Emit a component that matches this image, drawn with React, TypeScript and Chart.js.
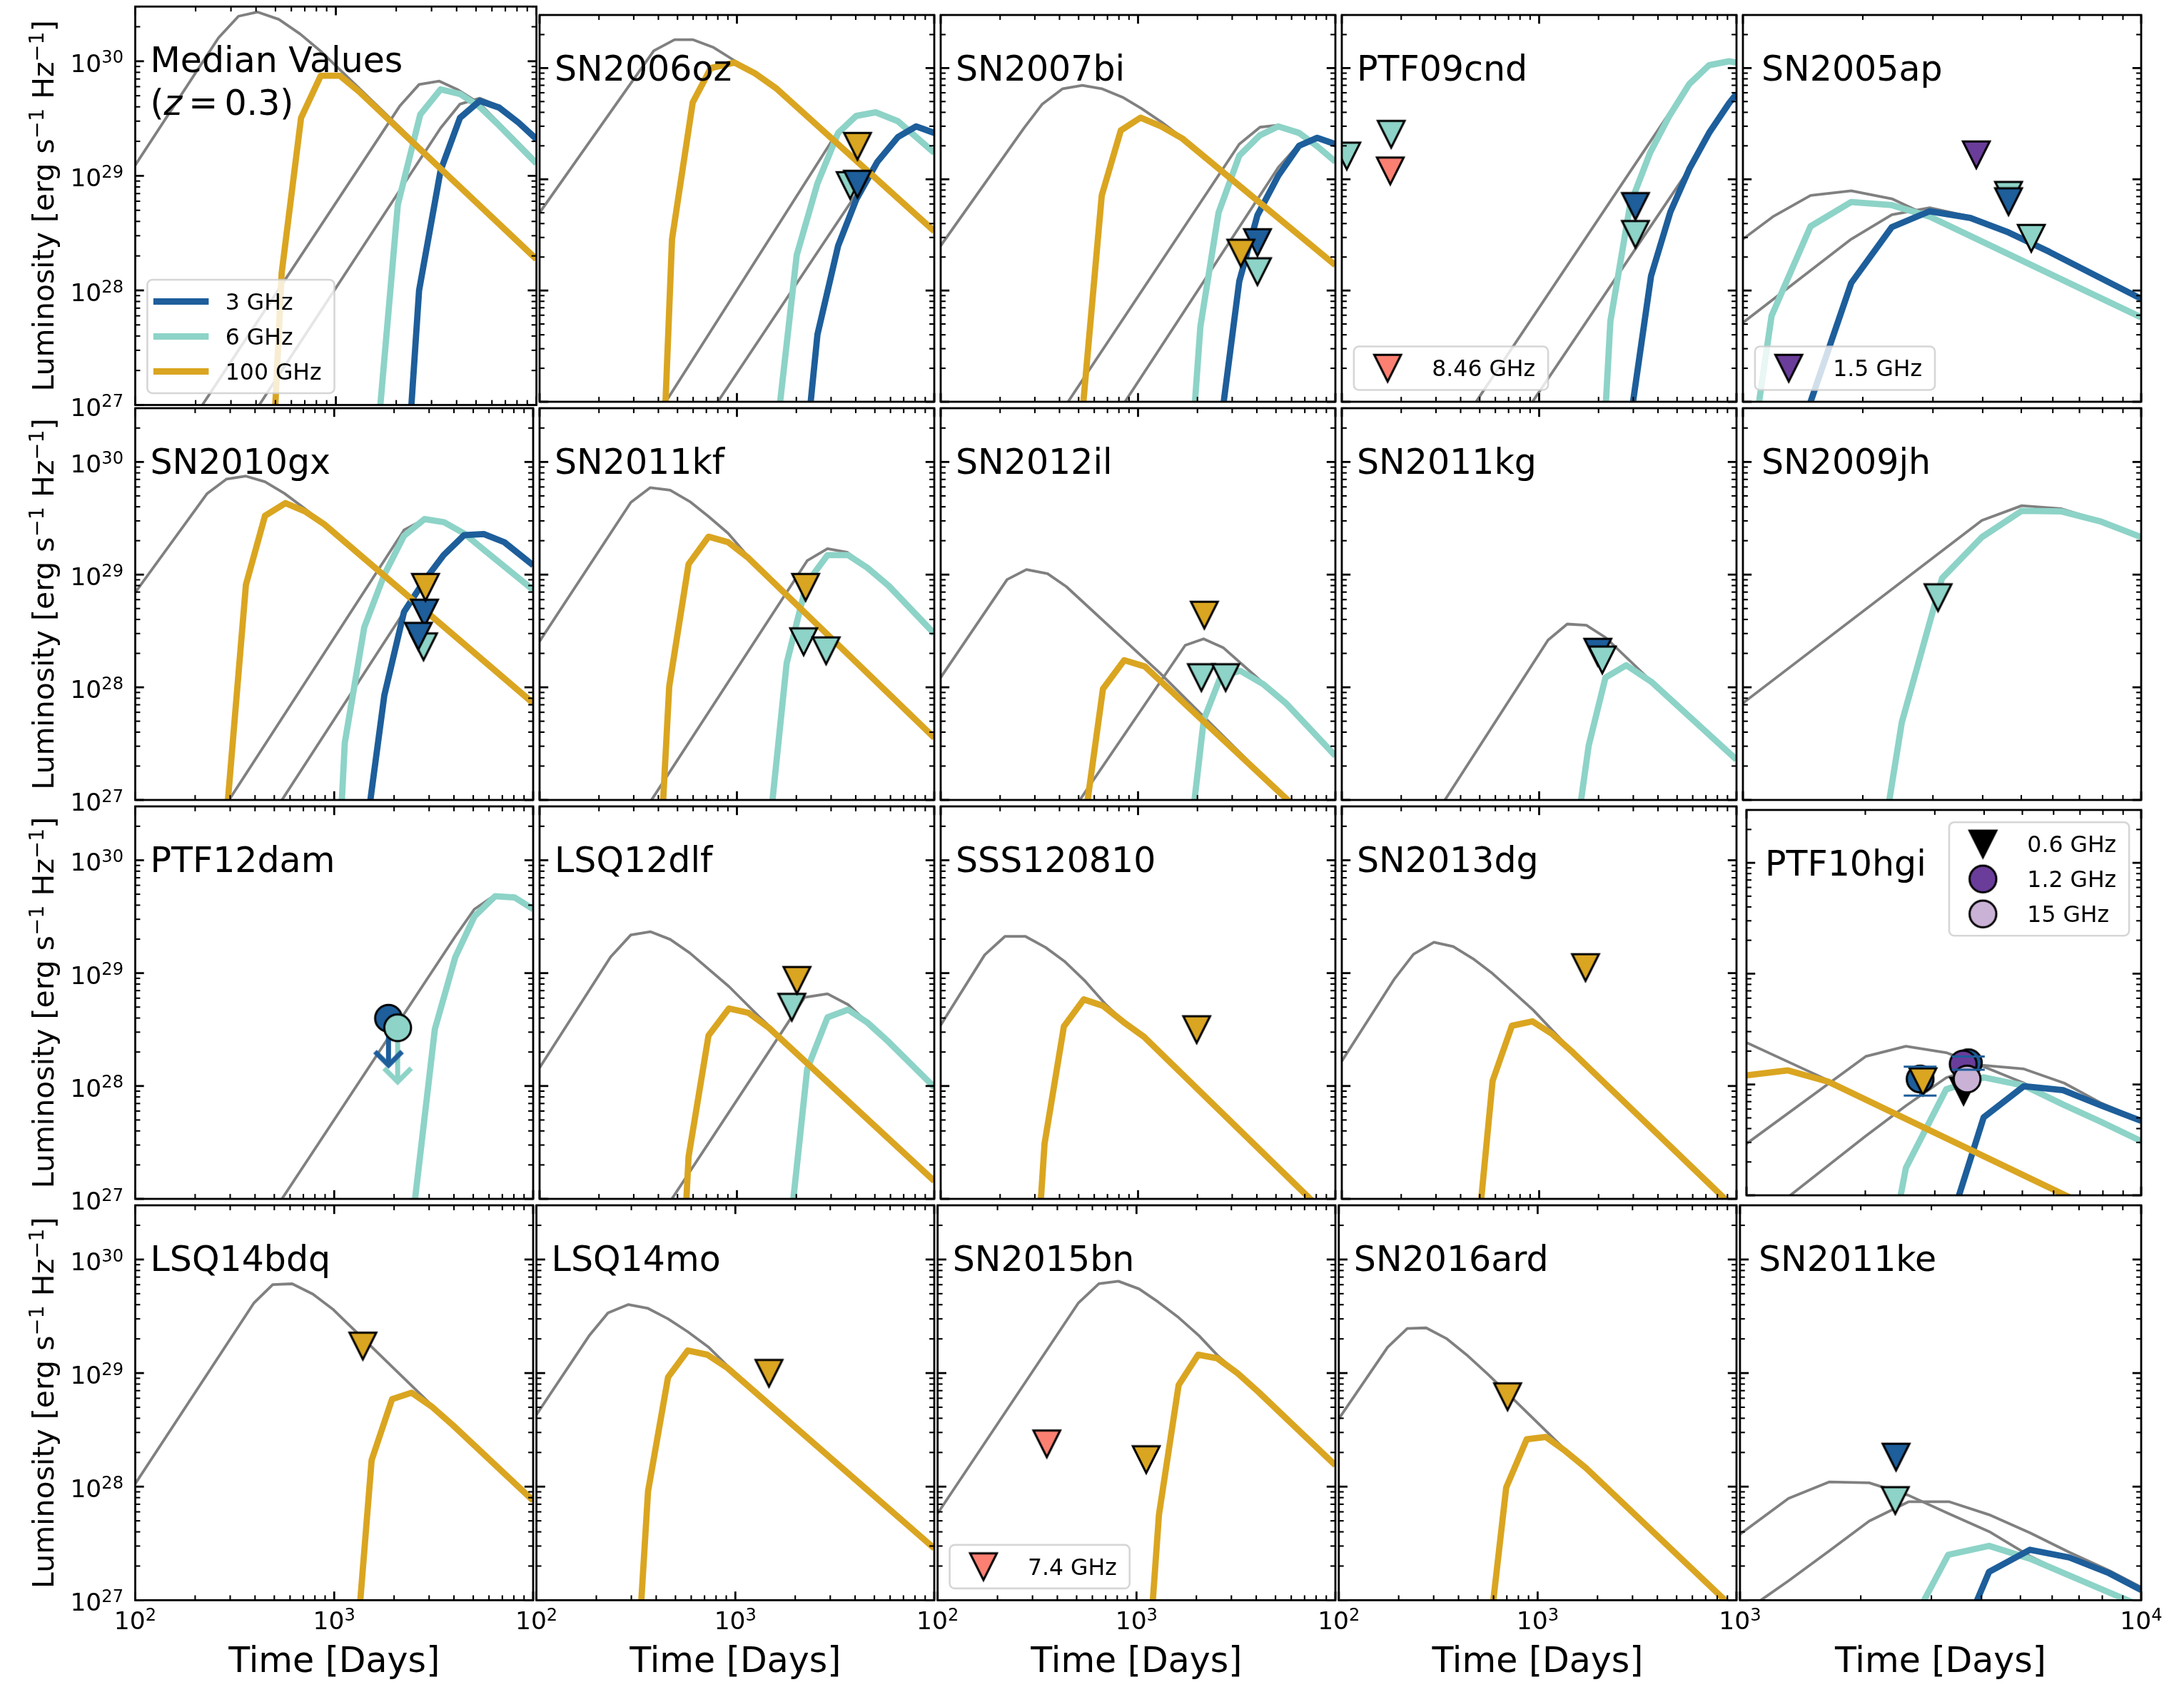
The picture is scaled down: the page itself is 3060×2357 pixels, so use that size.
import React, { useEffect, useRef } from 'react';
import { Chart, registerables } from 'chart.js';

Chart.register(...registerables);

type Pt = [number, number]; // [time in days, luminosity in erg s^-1 Hz^-1]

// ---------------------------------------------------------------------------
// Axis tick labels
// ---------------------------------------------------------------------------
const lumTickLabels = [1e27, 1e28, 1e29, 1e30];
const timeTickLabelsEarly = [1e2, 1e3];
const timeTickLabelsLate = [1e3, 1e4];

// ---------------------------------------------------------------------------
// Median values (z = 0.3)
// ---------------------------------------------------------------------------
const medianGray100: Pt[] = [[100, 1.24e29], [260, 1.6e30], [327, 2.47e30], [406, 2.69e30], [520, 2.32e30], [664, 1.73e30], [847, 1.21e30], [10000, 1.87e28]];
const medianGray6: Pt[] = [[150, 3.8e26], [216, 1e27], [2080, 4.05e29], [2600, 6.27e29], [3281, 6.7e29], [4074, 5.62e29], [5212, 4.28e29], [10000, 1.35e29]];
const medianGray3: Pt[] = [[300, 4.3e26], [415, 1e27], [3327, 2.61e29], [4159, 4.23e29], [5212, 4.76e29], [6516, 4.05e29], [10000, 2.21e29]];
const medianGold: Pt[] = [[429, 4e24], [537, 1.42e28], [671, 3.21e29], [841, 7.48e29], [1047, 7.48e29], [1300, 5.47e29], [10000, 1.87e28]];
const medianTeal: Pt[] = [[1629, 6.3e26], [2037, 5.6e28], [2636, 3.43e29], [3327, 5.68e29], [4159, 5.18e29], [5212, 4.0e29], [6516, 2.75e29], [10000, 1.28e29]];
const medianBlue: Pt[] = [[2123, 5e25], [2600, 1.0e28], [3327, 1.11e29], [4159, 3.21e29], [5212, 4.51e29], [6516, 3.94e29], [8147, 2.91e29], [10000, 2.09e29]];

// SN2006oz
const sn2006ozGray100: Pt[] = [[100, 5.0e28], [379, 1.43e30], [483, 1.8e30], [597, 1.8e30], [762, 1.53e30], [970, 1.17e30], [1236, 8.81e29], [1574, 6.55e29], [10000, 3.42e28]];
const sn2006ozGray6: Pt[] = [[300, 3.5e26], [436, 1e27], [3258, 2.72e29], [4027, 3.58e29], [5047, 4.0e29], [6546, 3.33e29], [10000, 1.73e29]];
const sn2006ozGray3: Pt[] = [[600, 4.5e26], [800, 1e27], [4027, 7.38e28], [5140, 1.39e29], [6546, 2.4e29], [8091, 2.99e29], [10000, 2.61e29]];
const sn2006ozGold: Pt[] = [[372, 1e24], [469, 2.9e28], [597, 4.9e29], [738, 1.0e30], [970, 1.12e30], [1236, 8.95e29], [1574, 6.62e29], [10000, 3.42e28]];
const sn2006ozTeal: Pt[] = [[1596, 5.6e26], [2009, 2.08e28], [2559, 9.19e28], [3258, 2.61e29], [4027, 3.72e29], [5047, 4.0e29], [6546, 3.33e29], [10000, 1.73e29]];
const sn2006ozBlue: Pt[] = [[2032, 6.9e25], [2559, 4.02e27], [3258, 2.53e28], [4027, 6.61e28], [5140, 1.43e29], [6546, 2.4e29], [8091, 2.99e29], [10000, 2.61e29]];
const sn2006ozLim6: Pt[] = [[3750, 8.79e28]];
const sn2006ozLim3: Pt[] = [[4083, 9.04e28]];
const sn2006ozLim100: Pt[] = [[4083, 1.98e29]];

// SN2007bi
const sn2007biGray100: Pt[] = [[100, 2.53e28], [264, 2.88e29], [326, 4.71e29], [415, 6.52e29], [522, 7.0e29], [655, 6.52e29], [834, 5.47e29], [1042, 4.32e29], [1312, 3.28e29], [1675, 2.36e29], [10000, 1.71e28]];
const sn2007biGray6: Pt[] = [[300, 3.4e26], [442, 1e27], [3258, 2.07e29], [4150, 2.94e29], [5140, 3.07e29], [6546, 2.61e29], [8091, 1.98e29], [10000, 1.44e29]];
const sn2007biGray3: Pt[] = [[650, 4.6e26], [859, 1e27], [5140, 1.28e29], [6546, 2.07e29], [8091, 2.36e29], [10000, 2.09e29]];
const sn2007biGold: Pt[] = [[520, 7.2e26], [655, 7.18e28], [818, 2.75e29], [1030, 3.58e29], [1312, 2.99e29], [1675, 2.33e29], [10000, 1.69e28]];
const sn2007biTeal: Pt[] = [[1644, 1.6e25], [2070, 4.74e27], [2559, 5.01e28], [3258, 1.63e29], [4150, 2.49e29], [5140, 2.99e29], [6546, 2.61e29], [8091, 1.98e29], [10000, 1.44e29]];
const sn2007biBlue: Pt[] = [[2588, 5.1e26], [3258, 1.21e28], [4027, 4.75e28], [5140, 1.08e29], [6546, 2.0e29], [8091, 2.36e29], [10000, 2.07e29]];
const sn2007biLim6: Pt[] = [[4027, 1.48e28]];
const sn2007biLim3: Pt[] = [[4027, 2.7e28]];
const sn2007biLim100: Pt[] = [[3319, 2.17e28]];

// PTF09cnd
const ptf09cndGray6: Pt[] = [[350, 4.4e26], [479, 1e27], [4571, 3.94e29], [5768, 7.19e29], [7261, 1.06e30], [9162, 1.15e30], [10000, 1.12e30]];
const ptf09cndGray3: Pt[] = [[650, 4e26], [925, 1e27], [5768, 1.24e29], [7261, 2.61e29], [9162, 4.82e29], [10000, 5.87e29]];
const ptf09cndTeal: Pt[] = [[1820, 3e24], [2296, 5.28e27], [2891, 5.92e28], [3648, 1.73e29], [4571, 3.72e29], [5768, 7.19e29], [7261, 1.06e30], [9162, 1.15e30], [10000, 1.12e30]];
const ptf09cndBlue: Pt[] = [[2931, 7.8e26], [3690, 1.35e28], [4624, 5.08e28], [5768, 1.24e29], [7261, 2.61e29], [9162, 4.82e29], [10000, 5.87e29]];
const ptf09cndLim6: Pt[] = [[106, 1.62e29], [178, 2.54e29], [3076, 3.2e28]];
const ptf09cndLim3: Pt[] = [[3076, 5.7e28]];
const ptf09cndLim846: Pt[] = [[176, 1.19e29]];

// SN2005ap
const sn2005apGray6: Pt[] = [[1000, 2.9e28], [1189, 4.61e28], [1479, 7.16e28], [1871, 7.87e28], [2366, 6.68e28], [2944, 4.62e28], [10000, 5.74e27]];
const sn2005apGray3: Pt[] = [[1000, 5.14e27], [1871, 2.9e28], [2366, 4.81e28], [2944, 5.55e28], [3724, 4.62e28], [4645, 3.42e28], [10000, 8.67e27]];
const sn2005apTeal: Pt[] = [[955, 3.2e25], [1180, 5.9e27], [1479, 3.78e28], [1871, 6.25e28], [2366, 5.86e28], [2944, 4.62e28], [10000, 5.74e27]];
const sn2005apBlue: Pt[] = [[1180, 1e25], [1479, 1e27], [1871, 1.17e28], [2366, 3.72e28], [2944, 5.16e28], [3724, 4.5e28], [4645, 3.33e28], [5875, 2.23e28], [10000, 8.43e27]];
const sn2005apLim15: Pt[] = [[3855, 1.66e29]];
const sn2005apLim6: Pt[] = [[4645, 7.18e28], [5297, 2.95e28]];
const sn2005apLim3: Pt[] = [[4645, 6.3e28]];

// SN2010gx
const sn2010gxGray100: Pt[] = [[100, 6.95e28], [229, 5.21e29], [287, 7.03e29], [360, 7.48e29], [449, 6.67e29], [562, 5.26e29], [714, 3.84e29], [891, 2.8e29], [10000, 7.23e27]];
const sn2010gxGray6: Pt[] = [[200, 3.5e26], [296, 1e27], [2244, 2.49e29], [2844, 3.11e29], [3565, 2.92e29], [4477, 2.33e29], [5649, 1.66e29], [10000, 7.31e28]];
const sn2010gxGray3: Pt[] = [[380, 3.7e26], [546, 1e27], [2831, 8.79e28], [3548, 1.49e29], [4498, 2.24e29], [5649, 2.29e29], [7161, 1.94e29], [10000, 1.21e29]];
const sn2010gxGold: Pt[] = [[286, 6.3e26], [360, 8.13e28], [449, 3.33e29], [569, 4.31e29], [714, 3.64e29], [891, 2.8e29], [10000, 7.23e27]];
const sn2010gxTeal: Pt[] = [[896, 1e24], [1130, 3.2e27], [1416, 3.41e28], [1786, 1.0e29], [2244, 2.21e29], [2844, 3.11e29], [3565, 2.92e29], [4477, 2.33e29], [5649, 1.66e29], [10000, 7.31e28]];
const sn2010gxBlue: Pt[] = [[1416, 3.9e26], [1786, 8.47e27], [2244, 4.68e28], [2831, 8.79e28], [3548, 1.49e29], [4498, 2.24e29], [5649, 2.29e29], [7161, 1.94e29], [10000, 1.21e29]];
const sn2010gxLim6: Pt[] = [[2812, 2.29e28]];
const sn2010gxLim3: Pt[] = [[2844, 4.56e28], [2649, 2.84e28]];
const sn2010gxLim100: Pt[] = [[2877, 7.71e28]];

// SN2011kf
const sn2011kfGray100: Pt[] = [[100, 2.56e28], [290, 4.38e29], [364, 5.92e29], [459, 5.61e29], [577, 4.45e29], [718, 3.28e29], [902, 2.33e29], [1130, 1.47e29], [10000, 3.59e27]];
const sn2011kfGray6: Pt[] = [[250, 3.5e26], [369, 1e27], [2270, 1.33e29], [2877, 1.7e29], [3614, 1.58e29], [4581, 1.17e29], [10000, 3.03e28]];
const sn2011kfGold: Pt[] = [[360, 5e24], [454, 1.02e28], [569, 1.24e29], [718, 2.17e29], [902, 1.94e29], [1130, 1.43e29], [10000, 3.56e27]];
const sn2011kfTeal: Pt[] = [[1426, 3.6e26], [1786, 1.63e28], [2254, 8.36e28], [2877, 1.49e29], [3656, 1.49e29], [4581, 1.15e29], [5888, 7.93e28], [10000, 2.99e28]];
const sn2011kfLim6: Pt[] = [[2178, 2.54e28], [2831, 2.11e28]];
const sn2011kfLim100: Pt[] = [[2228, 7.71e28]];

// SN2012il
const sn2012ilGray100: Pt[] = [[100, 1.22e28], [217, 9.04e28], [272, 1.11e29], [348, 1.02e29], [433, 7.83e28], [1291, 1.34e28], [5715, 1e27], [10000, 4.1e26]];
const sn2012ilGray6: Pt[] = [[400, 5.4e26], [507, 1e27], [1734, 2.36e28], [2148, 2.69e28], [2710, 2.24e28], [3926, 1.26e28], [5610, 7.23e27], [10000, 2.46e27]];
const sn2012ilGold: Pt[] = [[526, 5e26], [664, 9.66e27], [851, 1.74e28], [1084, 1.53e28], [5728, 1e27], [10000, 4.1e26]];
const sn2012ilTeal: Pt[] = [[1706, 1.5e26], [2153, 5.14e27], [2630, 1.26e28], [3296, 1.4e28], [4295, 1.07e28], [5610, 7.23e27], [10000, 2.46e27]];
const sn2012ilLim6: Pt[] = [[2094, 1.22e28], [2780, 1.22e28]];
const sn2012ilLim100: Pt[] = [[2168, 4.37e28]];

// SN2011kg
const sn2011kgGray6: Pt[] = [[250, 4.6e26], [333, 1e27], [1109, 2.62e28], [1387, 3.64e28], [1734, 3.56e28], [2168, 2.77e28], [3698, 1.13e28], [10000, 2.28e27]];
const sn2011kgTeal: Pt[] = [[1416, 1.7e26], [1782, 3.03e27], [2168, 1.22e28], [2761, 1.57e28], [3698, 1.12e28], [10000, 2.28e27]];
const sn2011kgLim3: Pt[] = [[1982, 2.05e28]];
const sn2011kgLim6: Pt[] = [[2089, 1.75e28]];

// SN2009jh
const sn2009jhGray6: Pt[] = [[1000, 7.23e27], [3981, 3.03e29], [5012, 4.09e29], [6310, 3.84e29], [7943, 2.99e29], [10000, 2.17e29]];
const sn2009jhTeal: Pt[] = [[1995, 3.2e25], [2506, 4.88e27], [3162, 9.27e28], [3981, 2.15e29], [5012, 3.68e29], [6310, 3.64e29], [7943, 2.95e29], [10000, 2.15e29]];
const sn2009jhLim6: Pt[] = [[3090, 6.25e28]];

// PTF12dam
const ptf12damGray6: Pt[] = [[400, 4.4e26], [546, 1e27], [4064, 2.12e29], [5070, 3.69e29], [6442, 4.92e29], [8072, 4.8e29], [10000, 3.73e29]];
const ptf12damTeal: Pt[] = [[2014, 3e24], [2541, 9.5e26], [3206, 3.19e28], [4064, 1.39e29], [5070, 3.18e29], [6442, 4.8e29], [8072, 4.68e29], [10000, 3.69e29]];
const ptf12damDet3: Pt[] = [[1875, 3.98e28]];
const ptf12damArrow3: Pt[] = [[1875, 3.98e28], [1875, 1.53e28]];
const ptf12damDet6: Pt[] = [[2084, 3.28e28]];
const ptf12damArrow6: Pt[] = [[2084, 3.28e28], [2084, 1.09e28]];

// LSQ12dlf
const lsq12dlfGray100: Pt[] = [[100, 1.45e28], [229, 1.39e29], [290, 2.18e29], [364, 2.33e29], [459, 1.99e29], [577, 1.51e29], [912, 7.6e28], [1288, 4.16e28], [10000, 1.45e27]];
const lsq12dlfGray6: Pt[] = [[330, 4e26], [468, 1e27], [2203, 6.1e28], [2877, 6.56e28], [3656, 5.26e28], [4581, 3.68e28], [10000, 9.89e27]];
const lsq12dlfGold: Pt[] = [[452, 1e24], [569, 2.37e27], [718, 2.8e28], [912, 4.86e28], [1143, 4.45e28], [1452, 3.28e28], [10000, 1.44e27]];
const lsq12dlfTeal: Pt[] = [[1799, 3.1e26], [2270, 1.41e28], [2877, 4.05e28], [3656, 4.74e28], [4581, 3.65e28], [5888, 2.45e28], [10000, 9.77e27]];
const lsq12dlfLim6: Pt[] = [[1897, 4.99e28]];
const lsq12dlfLim100: Pt[] = [[2014, 8.63e28]];

// SSS120810
const sss120810Gray100: Pt[] = [[100, 3.46e28], [167, 1.45e29], [212, 2.12e29], [268, 2.12e29], [340, 1.69e29], [427, 1.26e29], [541, 8.45e28], [687, 5.27e28], [845, 3.74e28], [1072, 2.75e28], [10000, 6.1e26]];
const sss120810Gold: Pt[] = [[266, 6.3e24], [336, 3.08e27], [421, 3.37e28], [531, 5.85e28], [665, 5.13e28], [845, 3.68e28], [1072, 2.73e28], [7447, 1e27], [10000, 6.0e26]];
const sss120810Lim100: Pt[] = [[1982, 3.16e28]];

// SN2013dg
const sn2013dgGray100: Pt[] = [[100, 1.66e28], [185, 8.91e28], [231, 1.47e29], [293, 1.88e29], [367, 1.72e29], [463, 1.34e29], [581, 9.9e28], [736, 6.85e28], [935, 4.69e28], [1167, 3.11e28], [1479, 2.02e28], [10000, 8.1e26]];
const sn2013dgGold: Pt[] = [[460, 1.6e26], [581, 1.11e28], [728, 3.42e28], [925, 3.74e28], [1167, 2.88e28], [1479, 1.99e28], [8730, 1e27], [10000, 7.9e26]];
const sn2013dgLim100: Pt[] = [[1718, 1.12e29]];

// PTF10hgi
const ptf10hgiGray100: Pt[] = [[1000, 2.39e28], [1611, 1.09e28], [6427, 1.02e27], [10000, 4.8e26]];
const ptf10hgiGray6: Pt[] = [[1000, 2.92e27], [2004, 1.79e28], [2535, 2.21e28], [3206, 1.94e28], [3990, 1.45e28], [5047, 1.03e28], [6339, 6.59e27], [7943, 4.57e27], [10000, 3.08e27]];
const ptf10hgiGray3: Pt[] = [[1000, 5e26], [1291, 1e27], [2004, 3.42e27], [2535, 6.43e27], [3206, 1.15e28], [3990, 1.49e28], [5047, 1.38e28], [6383, 1.03e28], [7943, 6.76e27], [10000, 4.79e27]];
const ptf10hgiGold: Pt[] = [[1000, 1.21e28], [1274, 1.34e28], [1611, 1.06e28], [6427, 1e27], [10000, 4.7e26]];
const ptf10hgiTeal: Pt[] = [[2004, 2.2e25], [2535, 1.77e27], [3206, 9.04e27], [3990, 1.16e28], [5047, 9.77e27], [6339, 6.59e27], [7943, 4.57e27], [10000, 3.08e27]];
const ptf10hgiBlue: Pt[] = [[3206, 4.3e26], [3990, 5.06e27], [5047, 9.66e27], [6339, 8.89e27], [7943, 6.43e27], [10000, 4.69e27]];
const ptf10hgiDet3: Pt[] = [[2754, 1.12e28], [3648, 1.57e28]];
const ptf10hgiErr3a: Pt[] = [[2754, 1.45e28], [2754, 7.94e27]];
const ptf10hgiErr3b: Pt[] = [[3648, 1.79e28], [3648, 1.36e28]];
const ptf10hgiCaps3: Pt[] = [[2754, 1.45e28], [2754, 7.94e27], [3648, 1.79e28], [3648, 1.36e28]];
const ptf10hgiLim100: Pt[] = [[2799, 1.06e28]];
const ptf10hgiDet12: Pt[] = [[3540, 1.53e28]];
const ptf10hgiLim06: Pt[] = [[3548, 8.71e27]];
const ptf10hgiDet15: Pt[] = [[3622, 1.12e28]];

// LSQ14bdq
const lsq14bdqGray100: Pt[] = [[100, 1.06e28], [394, 4.12e29], [491, 6.01e29], [615, 6.11e29], [782, 4.95e29], [991, 3.61e29], [3112, 5.16e28], [3945, 3.52e28], [10000, 7.64e27]];
const lsq14bdqGold: Pt[] = [[1222, 1.1e26], [1542, 1.71e28], [1954, 5.89e28], [2449, 6.71e28], [3112, 5.02e28], [3945, 3.48e28], [10000, 7.55e27]];
const lsq14bdqLim100: Pt[] = [[1393, 1.73e29]];

// LSQ14mo
const lsq14moGray100: Pt[] = [[100, 4.3e28], [184, 2.13e29], [229, 3.39e29], [290, 4.01e29], [364, 3.71e29], [459, 3.0e29], [577, 2.31e29], [731, 1.7e29], [912, 1.16e29], [10000, 2.88e27]];
const lsq14moGold: Pt[] = [[289, 1.3e25], [364, 9.1e27], [459, 9.2e28], [577, 1.58e29], [723, 1.45e29], [912, 1.11e29], [10000, 2.86e27]];
const lsq14moLim100: Pt[] = [[1476, 9.95e28]];

// SN2015bn
const sn2015bnGray100: Pt[] = [[100, 5.81e27], [509, 4.12e29], [647, 6.11e29], [811, 6.44e29], [1030, 5.51e29], [1285, 4.23e29], [1629, 3.08e29], [2065, 2.13e29], [2547, 1.44e29], [3228, 1.0e29], [4102, 6.87e28], [10000, 1.55e28]];
const sn2015bnGold: Pt[] = [[1030, 2e25], [1297, 5.66e27], [1629, 7.85e28], [2042, 1.45e29], [2547, 1.35e29], [3228, 9.95e28], [4102, 6.82e28], [10000, 1.54e28]];
const sn2015bnLim74: Pt[] = [[354, 2.38e28]];
const sn2015bnLim100: Pt[] = [[1119, 1.73e28]];

// SN2016ard
const sn2016ardGray100: Pt[] = [[100, 3.96e28], [176, 1.69e29], [221, 2.47e29], [275, 2.5e29], [350, 2.0e29], [439, 1.45e29], [564, 9.7e28], [1377, 2.11e28], [1750, 1.48e28], [10000, 8.1e26]];
const sn2016ardGold: Pt[] = [[551, 2.8e26], [695, 9.84e27], [881, 2.61e28], [1099, 2.74e28], [1377, 2.06e28], [1750, 1.46e28], [8750, 1e27], [10000, 7.9e26]];
const sn2016ardLim100: Pt[] = [[706, 6.19e28]];

// SN2011ke
const sn2011keGray6: Pt[] = [[1000, 3.81e27], [1321, 7.87e27], [1667, 1.1e28], [2099, 1.08e28], [2630, 8.39e27], [3304, 5.81e27], [4178, 4.02e27], [5284, 2.44e27], [6622, 1.66e27], [8318, 1.19e27], [10000, 9.1e26]];
const sn2011keGray3: Pt[] = [[1000, 7.4e26], [1127, 1e27], [1321, 1.48e27], [1667, 2.71e27], [2099, 4.97e27], [2630, 7.36e27], [3327, 7.36e27], [4178, 5.66e27], [5284, 3.92e27], [6622, 2.64e27], [8318, 1.83e27], [10000, 1.3e27]];
const sn2011keTeal: Pt[] = [[2630, 5.5e26], [3304, 2.51e27], [4178, 3.01e27], [5284, 2.32e27], [6622, 1.65e27], [8318, 1.17e27], [10000, 8.9e26]];
const sn2011keBlue: Pt[] = [[3304, 2.5e26], [4178, 1.78e27], [5284, 2.78e27], [6622, 2.38e27], [8318, 1.73e27], [10000, 1.23e27]];
const sn2011keLim6: Pt[] = [[2438, 7.55e27]];
const sn2011keLim3: Pt[] = [[2449, 1.82e28]];

// ---------------------------------------------------------------------------
// Styling
// ---------------------------------------------------------------------------
const FONT = '"DejaVu Sans", "Liberation Sans", sans-serif';
const GRAY = '#808080';
const C3 = '#1d5e9b';
const C6 = '#8dd3c7';
const C100 = '#daa520';
const CSALMON = '#fb8072';
const CPURPLE = '#6a3d9a';
const CLILAC = '#cab2d6';
const CBLACK = '#000000';

const PAGE_W = 3060;
const PAGE_H = 2357;
const GRID = { left: 189.5, top: 9.2, w: 562.1, h: 558.3 };
const Y_MIN = 1e27;
const Y_MAX = 3e30;
const X_MAX = 1e4;

type Kind = 'gray' | 'f3' | 'f6' | 'f100';
type MarkStyle = 'tri' | 'circ' | 'chev';
interface Curve { kind: Kind; pts: Pt[] }
interface Marks { style: MarkStyle; color: string; pts: Pt[] }
interface Seg { color: string; width: number; pts: Pt[] }
interface LegendItem { handle: 'line' | 'tri' | 'circ'; color: string; label: string }
interface LegendSpec { loc: 'll' | 'ur'; items: LegendItem[] }
interface PanelDef {
  title: string;
  subtitle?: boolean;
  xMin: number;
  curves: Curve[];
  segs?: Seg[];
  marks: Marks[];
  caps?: Pt[];
  legend?: LegendSpec;
}

const gray = (pts: Pt[]): Curve => ({ kind: 'gray', pts });
const ghz3 = (pts: Pt[]): Curve => ({ kind: 'f3', pts });
const ghz6 = (pts: Pt[]): Curve => ({ kind: 'f6', pts });
const ghz100 = (pts: Pt[]): Curve => ({ kind: 'f100', pts });
const tri = (color: string, pts: Pt[]): Marks => ({ style: 'tri', color, pts });
const circ = (color: string, pts: Pt[]): Marks => ({ style: 'circ', color, pts });
const chev = (color: string, pts: Pt[]): Marks => ({ style: 'chev', color, pts });

const PANELS: PanelDef[] = [
  // row 1
  {
    title: 'Median Values', subtitle: true, xMin: 100,
    curves: [gray(medianGray100), gray(medianGray6), gray(medianGray3), ghz6(medianTeal), ghz3(medianBlue), ghz100(medianGold)],
    marks: [],
    legend: { loc: 'll', items: [
      { handle: 'line', color: C3, label: '3 GHz' },
      { handle: 'line', color: C6, label: '6 GHz' },
      { handle: 'line', color: C100, label: '100 GHz' },
    ] },
  },
  {
    title: 'SN2006oz', xMin: 100,
    curves: [gray(sn2006ozGray100), gray(sn2006ozGray6), gray(sn2006ozGray3), ghz6(sn2006ozTeal), ghz3(sn2006ozBlue), ghz100(sn2006ozGold)],
    marks: [tri(C6, sn2006ozLim6), tri(C3, sn2006ozLim3), tri(C100, sn2006ozLim100)],
  },
  {
    title: 'SN2007bi', xMin: 100,
    curves: [gray(sn2007biGray100), gray(sn2007biGray6), gray(sn2007biGray3), ghz6(sn2007biTeal), ghz3(sn2007biBlue), ghz100(sn2007biGold)],
    marks: [tri(C3, sn2007biLim3), tri(C6, sn2007biLim6), tri(C100, sn2007biLim100)],
  },
  {
    title: 'PTF09cnd', xMin: 100,
    curves: [gray(ptf09cndGray6), gray(ptf09cndGray3), ghz6(ptf09cndTeal), ghz3(ptf09cndBlue)],
    marks: [tri(C6, ptf09cndLim6), tri(C3, ptf09cndLim3), tri(CSALMON, ptf09cndLim846)],
    legend: { loc: 'll', items: [{ handle: 'tri', color: CSALMON, label: '8.46 GHz' }] },
  },
  {
    title: 'SN2005ap', xMin: 1000,
    curves: [gray(sn2005apGray6), gray(sn2005apGray3), ghz6(sn2005apTeal), ghz3(sn2005apBlue)],
    marks: [tri(CPURPLE, sn2005apLim15), tri(C6, sn2005apLim6), tri(C3, sn2005apLim3)],
    legend: { loc: 'll', items: [{ handle: 'tri', color: CPURPLE, label: '1.5 GHz' }] },
  },
  // row 2
  {
    title: 'SN2010gx', xMin: 100,
    curves: [gray(sn2010gxGray100), gray(sn2010gxGray6), gray(sn2010gxGray3), ghz6(sn2010gxTeal), ghz3(sn2010gxBlue), ghz100(sn2010gxGold)],
    marks: [tri(C6, sn2010gxLim6), tri(C3, sn2010gxLim3), tri(C100, sn2010gxLim100)],
  },
  {
    title: 'SN2011kf', xMin: 100,
    curves: [gray(sn2011kfGray100), gray(sn2011kfGray6), ghz6(sn2011kfTeal), ghz100(sn2011kfGold)],
    marks: [tri(C6, sn2011kfLim6), tri(C100, sn2011kfLim100)],
  },
  {
    title: 'SN2012il', xMin: 100,
    curves: [gray(sn2012ilGray100), gray(sn2012ilGray6), ghz6(sn2012ilTeal), ghz100(sn2012ilGold)],
    marks: [tri(C6, sn2012ilLim6), tri(C100, sn2012ilLim100)],
  },
  {
    title: 'SN2011kg', xMin: 100,
    curves: [gray(sn2011kgGray6), ghz6(sn2011kgTeal)],
    marks: [tri(C3, sn2011kgLim3), tri(C6, sn2011kgLim6)],
  },
  {
    title: 'SN2009jh', xMin: 1000,
    curves: [gray(sn2009jhGray6), ghz6(sn2009jhTeal)],
    marks: [tri(C6, sn2009jhLim6)],
  },
  // row 3
  {
    title: 'PTF12dam', xMin: 100,
    curves: [gray(ptf12damGray6), ghz6(ptf12damTeal)],
    segs: [{ color: C3, width: 7, pts: ptf12damArrow3 }, { color: C6, width: 7, pts: ptf12damArrow6 }],
    marks: [chev(C3, [ptf12damArrow3[1]]), chev(C6, [ptf12damArrow6[1]]), circ(C3, ptf12damDet3), circ(C6, ptf12damDet6)],
  },
  {
    title: 'LSQ12dlf', xMin: 100,
    curves: [gray(lsq12dlfGray100), gray(lsq12dlfGray6), ghz6(lsq12dlfTeal), ghz100(lsq12dlfGold)],
    marks: [tri(C6, lsq12dlfLim6), tri(C100, lsq12dlfLim100)],
  },
  {
    title: 'SSS120810', xMin: 100,
    curves: [gray(sss120810Gray100), ghz100(sss120810Gold)],
    marks: [tri(C100, sss120810Lim100)],
  },
  {
    title: 'SN2013dg', xMin: 100,
    curves: [gray(sn2013dgGray100), ghz100(sn2013dgGold)],
    marks: [tri(C100, sn2013dgLim100)],
  },
  {
    title: 'PTF10hgi', xMin: 1000,
    curves: [gray(ptf10hgiGray100), gray(ptf10hgiGray6), gray(ptf10hgiGray3), ghz6(ptf10hgiTeal), ghz3(ptf10hgiBlue), ghz100(ptf10hgiGold)],
    segs: [{ color: C3, width: 3, pts: ptf10hgiErr3a }, { color: C3, width: 3, pts: ptf10hgiErr3b }],
    marks: [circ(C3, ptf10hgiDet3), tri(C100, ptf10hgiLim100), circ(CPURPLE, ptf10hgiDet12), tri(CBLACK, ptf10hgiLim06), circ(CLILAC, ptf10hgiDet15)],
    caps: ptf10hgiCaps3,
    legend: { loc: 'ur', items: [
      { handle: 'tri', color: CBLACK, label: '0.6 GHz' },
      { handle: 'circ', color: CPURPLE, label: '1.2 GHz' },
      { handle: 'circ', color: CLILAC, label: '15 GHz' },
    ] },
  },
  // row 4
  {
    title: 'LSQ14bdq', xMin: 100,
    curves: [gray(lsq14bdqGray100), ghz100(lsq14bdqGold)],
    marks: [tri(C100, lsq14bdqLim100)],
  },
  {
    title: 'LSQ14mo', xMin: 100,
    curves: [gray(lsq14moGray100), ghz100(lsq14moGold)],
    marks: [tri(C100, lsq14moLim100)],
  },
  {
    title: 'SN2015bn', xMin: 100,
    curves: [gray(sn2015bnGray100), ghz100(sn2015bnGold)],
    marks: [tri(CSALMON, sn2015bnLim74), tri(C100, sn2015bnLim100)],
    legend: { loc: 'll', items: [{ handle: 'tri', color: CSALMON, label: '7.4 GHz' }] },
  },
  {
    title: 'SN2016ard', xMin: 100,
    curves: [gray(sn2016ardGray100), ghz100(sn2016ardGold)],
    marks: [tri(C100, sn2016ardLim100)],
  },
  {
    title: 'SN2011ke', xMin: 1000,
    curves: [gray(sn2011keGray6), gray(sn2011keGray3), ghz6(sn2011keTeal), ghz3(sn2011keBlue)],
    marks: [tri(C6, sn2011keLim6), tri(C3, sn2011keLim3)],
  },
];

// ---------------------------------------------------------------------------
// Marker sprites (triangle_down / circle / caret)
// ---------------------------------------------------------------------------
const markerCache = new Map<string, HTMLCanvasElement>();
function markerImage(style: MarkStyle, color: string): HTMLCanvasElement {
  const key = style + color;
  const hit = markerCache.get(key);
  if (hit) return hit;
  const c = document.createElement('canvas');
  c.width = 60;
  c.height = 60;
  const g = c.getContext('2d') as CanvasRenderingContext2D;
  const m = 30;
  const s = 37.5 / 2;
  g.lineWidth = 3;
  g.strokeStyle = '#000';
  g.fillStyle = color;
  g.lineJoin = 'miter';
  if (style === 'tri') {
    g.beginPath();
    g.moveTo(m - s, m - s);
    g.lineTo(m + s, m - s);
    g.lineTo(m, m + s);
    g.closePath();
    g.fill();
    g.stroke();
  } else if (style === 'circ') {
    g.beginPath();
    g.arc(m, m, s, 0, Math.PI * 2);
    g.fill();
    g.stroke();
  } else {
    g.strokeStyle = color;
    g.lineWidth = 7;
    g.beginPath();
    g.moveTo(m - 19, m - 19);
    g.lineTo(m, m);
    g.lineTo(m + 19, m - 19);
    g.stroke();
  }
  markerCache.set(key, c);
  return c;
}

// ---------------------------------------------------------------------------
// Text helpers
// ---------------------------------------------------------------------------
interface Piece { t: string; sup?: boolean; it?: boolean; dx?: number }
function pieceFont(p: Piece, size: number) {
  const s = p.sup ? size * 0.7 : size;
  return `${p.it ? 'italic ' : ''}${s}px ${FONT}`;
}
function richWidth(ctx: CanvasRenderingContext2D, pieces: Piece[], size: number) {
  let w = 0;
  for (const p of pieces) {
    ctx.font = pieceFont(p, size);
    w += (p.dx || 0) + ctx.measureText(p.t).width;
  }
  return w;
}
function drawRich(ctx: CanvasRenderingContext2D, pieces: Piece[], x: number, y: number, size: number, raise: number) {
  let cx = x;
  ctx.textAlign = 'left';
  ctx.textBaseline = 'alphabetic';
  for (const p of pieces) {
    cx += p.dx || 0;
    ctx.font = pieceFont(p, size);
    ctx.fillText(p.t, cx, p.sup ? y - size * raise : y);
    cx += ctx.measureText(p.t).width;
  }
}
function drawPow(ctx: CanvasRenderingContext2D, value: number, x: number, baseline: number, size: number, align: 'center' | 'right') {
  const exp = String(Math.round(Math.log10(value)));
  const pieces: Piece[] = [{ t: '10' }, { t: exp, sup: true }];
  const w = richWidth(ctx, pieces, size);
  const x0 = align === 'center' ? x - w / 2 : x - w;
  drawRich(ctx, pieces, x0, baseline, size, 0.36);
}
function strokeLine(ctx: CanvasRenderingContext2D, x1: number, y1: number, x2: number, y2: number) {
  ctx.beginPath();
  ctx.moveTo(x1, y1);
  ctx.lineTo(x2, y2);
  ctx.stroke();
}
function roundRectPath(ctx: CanvasRenderingContext2D, x: number, y: number, w: number, h: number, r: number) {
  ctx.beginPath();
  ctx.moveTo(x + r, y);
  ctx.lineTo(x + w - r, y);
  ctx.arcTo(x + w, y, x + w, y + r, r);
  ctx.lineTo(x + w, y + h - r);
  ctx.arcTo(x + w, y + h, x + w - r, y + h, r);
  ctx.lineTo(x + r, y + h);
  ctx.arcTo(x, y + h, x, y + h - r, r);
  ctx.lineTo(x, y + r);
  ctx.arcTo(x, y, x + r, y, r);
  ctx.closePath();
}

function logTicks(min: number, max: number) {
  const out: { v: number; major: boolean }[] = [];
  const e0 = Math.floor(Math.log10(min));
  const e1 = Math.ceil(Math.log10(max));
  for (let e = e0; e <= e1; e++) {
    for (let k = 1; k <= 9; k++) {
      const v = k * Math.pow(10, e);
      if (v >= min * (1 - 1e-9) && v <= max * (1 + 1e-9)) out.push({ v, major: k === 1 });
    }
  }
  return out;
}

function drawLegend(ctx: CanvasRenderingContext2D, a: any, spec: LegendSpec) {
  const fs = 31.5;
  ctx.font = `${fs}px ${FONT}`;
  const tw = Math.max(...spec.items.map((it) => ctx.measureText(it.label).width));
  const w = 109.4 + tw + 18;
  const h = 61 + 49 * (spec.items.length - 1);
  const x0 = spec.loc === 'll' ? a.left + 16.9 : a.right - 16.9 - w;
  const y0 = spec.loc === 'll' ? a.bottom - 16.5 - h : a.top + 17.2;
  roundRectPath(ctx, x0, y0, w, h, 7);
  ctx.fillStyle = 'rgba(255,255,255,0.8)';
  ctx.fill();
  ctx.lineWidth = 2.6;
  ctx.strokeStyle = 'rgba(204,204,204,0.8)';
  ctx.stroke();
  spec.items.forEach((it, i) => {
    const cy = y0 + 30.5 + 49 * i;
    if (it.handle === 'line') {
      ctx.strokeStyle = it.color;
      ctx.lineWidth = 9;
      ctx.lineCap = 'butt';
      strokeLine(ctx, x0 + 8.5, cy, x0 + 86, cy);
    } else {
      const img = markerImage(it.handle, it.color);
      ctx.drawImage(img, x0 + 47.3 - img.width / 2, cy - img.height / 2);
    }
    ctx.fillStyle = '#000';
    ctx.font = `${fs}px ${FONT}`;
    ctx.textAlign = 'left';
    ctx.textBaseline = 'alphabetic';
    ctx.fillText(it.label, x0 + 109.4, cy + (0.729 * fs) / 2);
  });
}

const yLabelPieces: Piece[] = [
  { t: 'Luminosity [erg s' },
  { t: '\u22121', sup: true },
  { t: ' Hz' },
  { t: '\u22121', sup: true },
  { t: ']' },
];

// Axes decoration: spines, inward ticks on all sides, labels, titles, legends.
function decorPlugin(def: PanelDef, row: number, col: number) {
  return {
    id: 'panelDecor',
    afterDraw(chart: any) {
      const ctx: CanvasRenderingContext2D = chart.ctx;
      const a = chart.chartArea;
      const xs = chart.scales.x;
      const ys = chart.scales.y;
      ctx.save();
      ctx.lineCap = 'butt';
      ctx.strokeStyle = '#000';
      ctx.fillStyle = '#000';

      for (const t of logTicks(Y_MIN, Y_MAX)) {
        const y = ys.getPixelForValue(t.v);
        if (y < a.top - 0.5 || y > a.bottom + 0.5) continue;
        const len = t.major ? 12.2 : 6.9;
        ctx.lineWidth = t.major ? 2.8 : 2.1;
        strokeLine(ctx, a.left, y, a.left + len, y);
        strokeLine(ctx, a.right, y, a.right - len, y);
      }
      for (const t of logTicks(def.xMin, X_MAX)) {
        const x = xs.getPixelForValue(t.v);
        if (x < a.left - 0.5 || x > a.right + 0.5) continue;
        const len = t.major ? 12.2 : 6.9;
        ctx.lineWidth = t.major ? 2.8 : 2.1;
        strokeLine(ctx, x, a.bottom, x, a.bottom - len);
        strokeLine(ctx, x, a.top, x, a.top + len);
      }
      ctx.lineWidth = 2.8;
      ctx.strokeRect(a.left, a.top, a.right - a.left, a.bottom - a.top);

      // tick labels
      ctx.fillStyle = '#000';
      if (col === 0) {
        for (const v of lumTickLabels) {
          const y = ys.getPixelForValue(v);
          drawPow(ctx, v, a.left - 16.5, y + 15, 34.5, 'right');
        }
        ctx.save();
        ctx.translate(75, (a.top + a.bottom) / 2);
        ctx.rotate(-Math.PI / 2);
        const w = richWidth(ctx, yLabelPieces, 41);
        drawRich(ctx, yLabelPieces, -w / 2, 0, 41, 0.33);
        ctx.restore();
      }
      if (row === 3) {
        const labels = def.xMin < 1000 ? timeTickLabelsEarly : timeTickLabelsLate;
        for (const v of labels) {
          const x = xs.getPixelForValue(v);
          drawPow(ctx, v, x, a.bottom + 41, 34.5, 'center');
        }
        ctx.font = `49px ${FONT}`;
        ctx.textAlign = 'center';
        ctx.textBaseline = 'alphabetic';
        ctx.fillText('Time [Days]', (a.left + a.right) / 2, a.bottom + 100.6);
      }

      // panel title
      const tx = a.left + (col === 4 ? 26 : 21);
      ctx.font = `49px ${FONT}`;
      ctx.textAlign = 'left';
      ctx.textBaseline = 'alphabetic';
      ctx.fillText(def.title, tx, a.top + 92.2);
      if (def.subtitle) {
        drawRich(ctx, [{ t: '(' }, { t: 'z', it: true }, { t: '=', dx: 9 }, { t: '0.3)', dx: 9 }], tx, a.top + 151.3, 49, 0);
      }

      if (def.legend) drawLegend(ctx, a, def.legend);
      ctx.restore();
    },
  };
}

function colorOf(kind: Kind) {
  if (kind === 'gray') return GRAY;
  if (kind === 'f3') return C3;
  if (kind === 'f6') return C6;
  return C100;
}

const toXY = (pts: Pt[]) => pts.map(([x, y]) => ({ x, y }));

function panelGeometry(row: number, col: number) {
  const left = GRID.left + col * GRID.w;
  const top = GRID.top + row * GRID.h;
  const right = left + GRID.w;
  const bottom = top + GRID.h;
  const x0 = col === 0 ? 0 : Math.floor(left) - (row === 3 ? 42 : 16);
  const x1 = col === 4 ? PAGE_W : Math.ceil(right) + 16;
  const y0 = row === 0 ? 0 : Math.floor(top) - 16;
  const y1 = row === 3 ? PAGE_H : Math.ceil(bottom) + 16;
  return {
    x0, y0, cw: x1 - x0, ch: y1 - y0,
    padL: left - x0, padT: top - y0, padR: x1 - right, padB: y1 - bottom,
  };
}

function buildConfig(def: PanelDef, row: number, col: number, geo: ReturnType<typeof panelGeometry>) {
  const datasets: any[] = [];
  const push = (d: any) => {
    d.order = -datasets.length; // later datasets are painted on top
    d.clip = 0;
    datasets.push(d);
  };
  for (const c of def.curves) {
    push({
      data: toXY(c.pts), showLine: true, borderColor: colorOf(c.kind),
      borderWidth: c.kind === 'gray' ? 3.8 : 8.8, pointRadius: 0, pointHoverRadius: 0,
      borderJoinStyle: 'round', borderCapStyle: 'butt', tension: 0, fill: false,
    });
  }
  for (const s of def.segs || []) {
    push({
      data: toXY(s.pts), showLine: true, borderColor: s.color, borderWidth: s.width,
      pointRadius: 0, pointHoverRadius: 0, borderCapStyle: 'butt', tension: 0, fill: false,
    });
  }
  for (const m of def.marks) {
    push({
      data: toXY(m.pts), showLine: false, pointStyle: markerImage(m.style, m.color),
      pointRadius: 20, pointHoverRadius: 20,
    });
  }
  if (def.caps) {
    push({
      data: toXY(def.caps), showLine: false, pointStyle: 'line', pointRadius: 23, pointHoverRadius: 23,
      pointBorderWidth: 3, pointBorderColor: C3, pointBackgroundColor: C3,
    });
  }
  return {
    type: 'scatter' as const,
    data: { datasets },
    options: {
      animation: false as const,
      responsive: false,
      maintainAspectRatio: false,
      devicePixelRatio: 1,
      events: [] as any[],
      layout: { padding: { left: geo.padL, top: geo.padT, right: geo.padR, bottom: geo.padB } },
      scales: {
        x: { type: 'logarithmic' as const, min: def.xMin, max: X_MAX, display: false, bounds: 'data' as const },
        y: { type: 'logarithmic' as const, min: Y_MIN, max: Y_MAX, display: false, bounds: 'data' as const },
      },
      plugins: { legend: { display: false }, tooltip: { enabled: false }, title: { display: false } },
    },
    plugins: [decorPlugin(def, row, col)],
  };
}

function PanelCanvas({ def, row, col }: { def: PanelDef; row: number; col: number }) {
  const ref = useRef<HTMLCanvasElement>(null);
  const geo = panelGeometry(row, col);
  useEffect(() => {
    const canvas = ref.current;
    if (!canvas) return;
    const chart = new Chart(canvas, buildConfig(def, row, col, geo) as any);
    return () => chart.destroy();
  }, []);
  return (
    <canvas
      ref={ref}
      width={geo.cw}
      height={geo.ch}
      style={{ position: 'absolute', left: geo.x0, top: geo.y0, width: geo.cw, height: geo.ch }}
    />
  );
}

export default function App() {
  return (
    <div style={{ position: 'absolute', left: 0, top: 0, width: PAGE_W, height: PAGE_H, background: '#fff', overflow: 'hidden' }}>
      {PANELS.map((p, i) => (
        <PanelCanvas key={p.title} def={p} row={Math.floor(i / 5)} col={i % 5} />
      ))}
    </div>
  );
}
